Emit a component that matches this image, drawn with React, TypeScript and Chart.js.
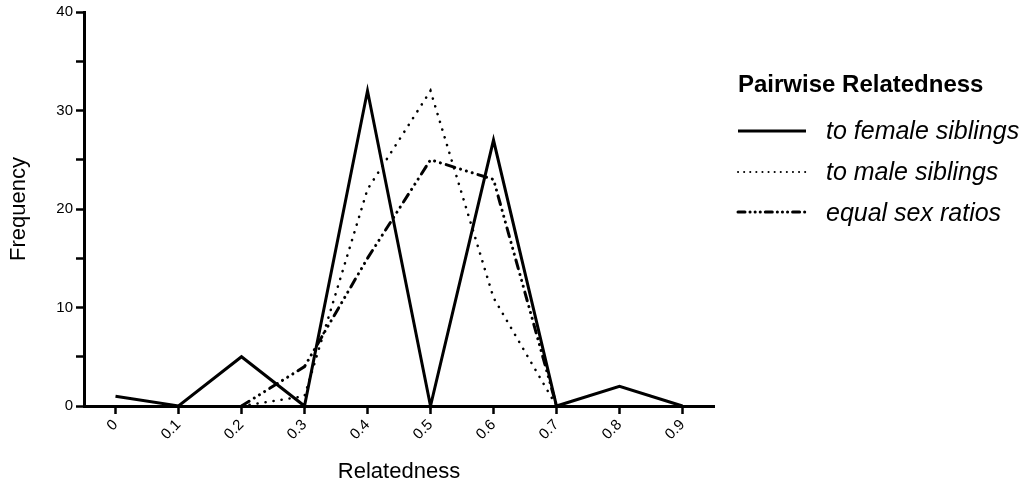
import React, { useEffect, useRef } from "react";
import { Chart, registerables } from "chart.js";

Chart.register(...registerables);

const categories = ["0", "0.1", "0.2", "0.3", "0.4", "0.5", "0.6", "0.7", "0.8", "0.9"];
const femaleSiblings = [1, 0, 5, 0, 32, 0, 27, 0, 2, 0];
const maleSiblings = [null, null, 0, 1, 22, 32, 11, 0, null, null];
const equalSexRatios = [null, null, 0, 4, 15, 25, 23, 0, null, null];
const legendTitle = "Pairwise Relatedness";
const seriesNames = ["to female siblings", "to male siblings", "equal sex ratios"];

const FONT = "'Liberation Sans', Arial, sans-serif";
const DOT = [0.1, 8];
const DASHDOT = [9, 6, 0.1, 6, 0.1, 6, 0.1, 6];

const legendPlugin = {
  id: "customLegend",
  afterDraw(chart: any) {
    const ctx = chart.ctx;
    ctx.save();
    ctx.fillStyle = "#000";
    ctx.textBaseline = "alphabetic";
    ctx.textAlign = "left";
    ctx.font = `bold 24px ${FONT}`;
    ctx.fillText(legendTitle, 738, 92);
    const ys = [131, 172, 212];
    const bases = [139, 180, 221];
    const dashes = [[], [0.1, 6], [7, 5, 0.1, 5, 0.1, 5, 0.1, 5]];
    const widths = [3, 2, 3];
    for (let i = 0; i < 3; i++) {
      ctx.beginPath();
      ctx.strokeStyle = "#000";
      ctx.lineWidth = widths[i];
      ctx.lineCap = i === 0 ? "butt" : "round";
      ctx.setLineDash(dashes[i]);
      ctx.moveTo(738, ys[i]);
      ctx.lineTo(806, ys[i]);
      ctx.stroke();
      ctx.setLineDash([]);
      ctx.font = `italic 25px ${FONT}`;
      ctx.fillText(seriesNames[i], 826, bases[i]);
    }
    ctx.restore();
  },
};

export default function App() {
  const ref = useRef<HTMLCanvasElement>(null);
  useEffect(() => {
    document.body.style.margin = "0";
    const chart = new Chart(ref.current!, {
      type: "line",
      data: {
        labels: categories,
        datasets: [
          {
            label: seriesNames[0],
            data: femaleSiblings,
            borderColor: "#000",
            borderWidth: 3,
            pointRadius: 0,
            tension: 0,
            clip: false as any,
          },
          {
            label: seriesNames[1],
            data: maleSiblings as any,
            borderColor: "#000",
            borderWidth: 2.6,
            borderDash: DOT,
            borderCapStyle: "round",
            pointRadius: 0,
            tension: 0,
            clip: false as any,
          },
          {
            label: seriesNames[2],
            data: equalSexRatios as any,
            borderColor: "#000",
            borderWidth: 3,
            borderDash: DASHDOT,
            borderCapStyle: "round",
            pointRadius: 0,
            tension: 0,
            clip: false as any,
          },
        ],
      },
      options: {
        animation: false,
        responsive: false,
        layout: { padding: { left: 0, top: 12, right: 314, bottom: 0 } },
        plugins: { legend: { display: false }, tooltip: { enabled: false } },
        scales: {
          x: {
            type: "category",
            offset: true,
            grid: {
              offset: false,
              drawOnChartArea: false,
              drawTicks: true,
              tickLength: 8,
              tickWidth: 2.5,
              tickColor: "#000",
            },
            border: { display: true, color: "#000", width: 3 },
            ticks: {
              color: "#000",
              font: { family: FONT, size: 15 },
              minRotation: 45,
              maxRotation: 45,
              padding: 2,
            },
            title: {
              display: true,
              text: "Relatedness",
              color: "#000",
              font: { family: FONT, size: 22 },
              padding: { top: 0, bottom: 5 },
            },
            afterFit: (s: any) => {
              s.height = 84;
            },
          },
          y: {
            min: 0,
            max: 40,
            grid: {
              drawOnChartArea: false,
              drawTicks: true,
              tickLength: 8,
              tickWidth: 2.5,
              tickColor: "#000",
            },
            border: { display: true, color: "#000", width: 3 },
            ticks: {
              stepSize: 5,
              color: "#000",
              font: { family: FONT, size: 15 },
              padding: 3,
              callback: (v: any) => (Number(v) % 10 === 0 ? String(v) : ""),
            },
            title: {
              display: true,
              text: "Frequency",
              color: "#000",
              font: { family: FONT, size: 22 },
              padding: { top: 6, bottom: 0 },
            },
            afterFit: (s: any) => {
              s.width = 84;
            },
          },
        },
      },
      plugins: [legendPlugin],
    });
    return () => chart.destroy();
  }, []);
  return (
    <div style={{ position: "absolute", left: 0, top: 0, width: 1028, height: 490, background: "#fff" }}>
      <canvas ref={ref} width={1028} height={490} />
    </div>
  );
}
